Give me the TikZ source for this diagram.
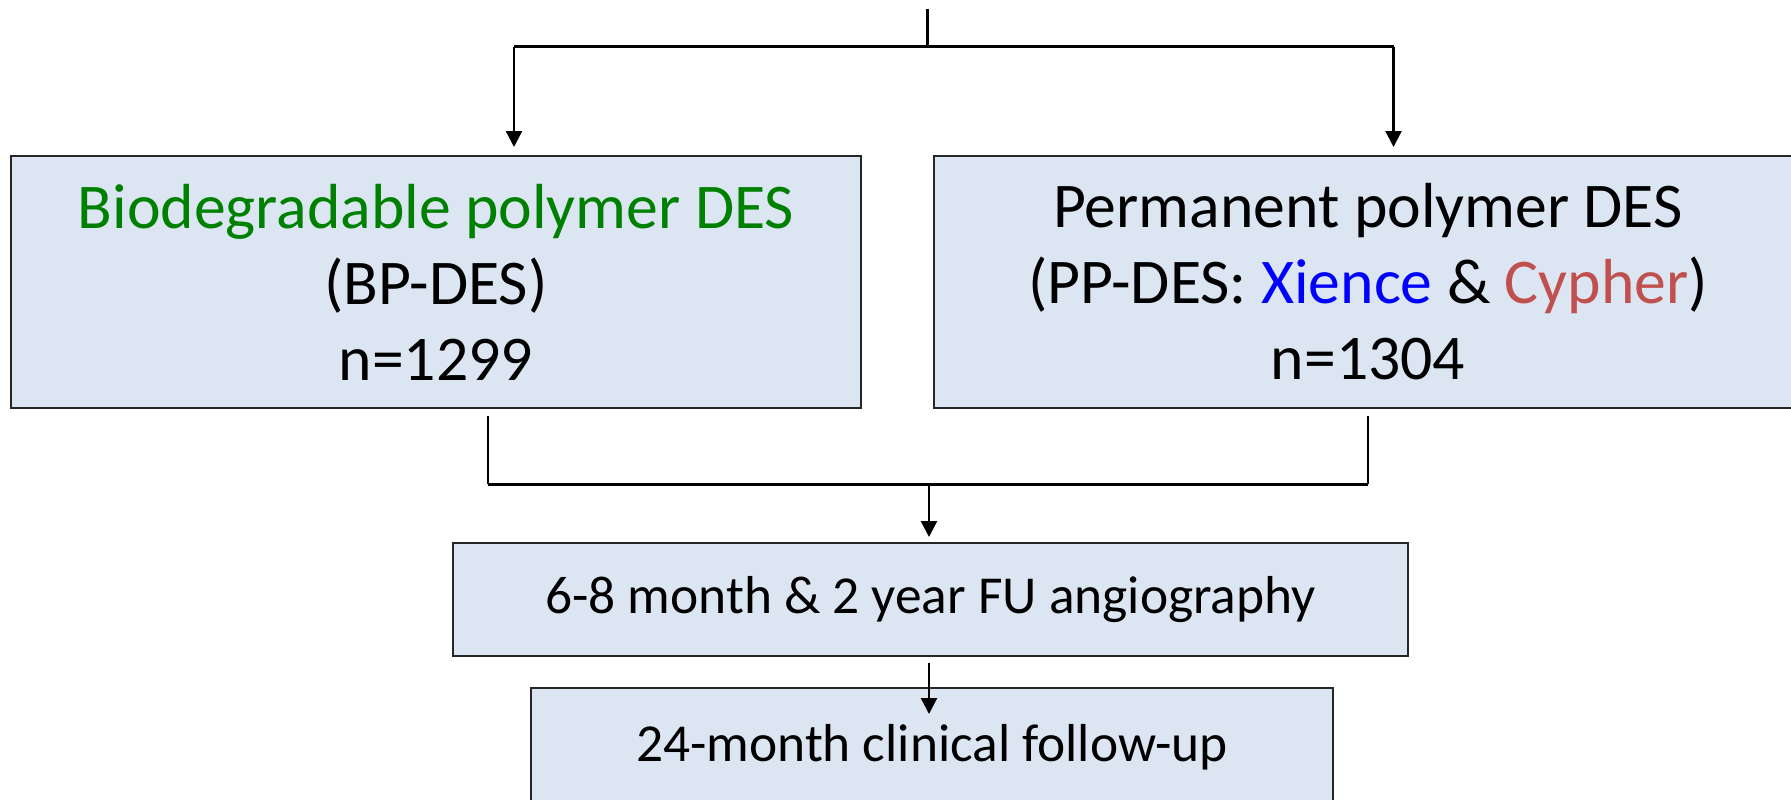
\documentclass[tikz,border=0pt]{standalone}
\usepackage{fontspec}
\setmainfont{Carlito}
\usetikzlibrary{arrows.meta}
\definecolor{boxfill}{HTML}{DCE6F2}
\definecolor{bpgreen}{RGB}{0,128,0}
\definecolor{xblue}{RGB}{0,0,255}
\definecolor{cred}{HTML}{C0504D}
\begin{document}
\begin{tikzpicture}[x=1pt,y=-1pt,
  box/.style={draw=black!85, line width=2pt, fill=boxfill, inner sep=0pt, align=center},
  bigtext/.style={font=\fontsize{63.7}{76}\selectfont},
  smalltext/.style={font=\fontsize{53.4}{60}\selectfont},
  conn/.style={line width=2.3pt, black},
  bus/.style={line width=3pt, black},
  arr/.style={conn, -{Triangle[length=16pt,width=16pt]}}]
\useasboundingbox (0,0) rectangle (1791,800);
\clip (0,0) rectangle (1791,800);
% boxes
\node[box, bigtext, minimum width=850pt, minimum height=252pt] (bp) at (436,282)
  {\textcolor{bpgreen}{Biodegradable polymer DES}\\(BP-DES)\\n=1299};
\node[box, bigtext, minimum width=868pt, minimum height=252pt] (pp) at (1368,282)
  {Permanent polymer DES\\(PP-DES: \textcolor{xblue}{Xience} \& \textcolor{cred}{Cypher})\\n=1304};
\node[box, smalltext, minimum width=955pt, minimum height=113pt] (ang) at (930.5,599.5)
  {\raisebox{-2.5pt}{6-8 month \& 2 year FU angiography}};
\node[box, smalltext, minimum width=802pt, minimum height=118pt] (fu) at (932,747)
  {24-month clinical follow-up};
% top split
\coordinate (src) at (927.5,9);
\coordinate (split) at (927.5,47);
\draw[conn] (src) -- (split);
\draw[bus] ([xshift=78pt]bp.north |- split) -- ([xshift=25.5pt]pp.north |- split);
\draw[arr] ([xshift=78pt]bp.north |- split) -- ([xshift=78pt,yshift=8pt]bp.north);
\draw[arr] ([xshift=25.5pt]pp.north |- split) -- ([xshift=25.5pt,yshift=8pt]pp.north);
% merge
\coordinate (merge) at (929,484);
\draw[conn] ([xshift=52pt,yshift=-7pt]bp.south) -- ([xshift=52pt]bp.south |- merge);
\draw[conn] ([yshift=-7pt]pp.south) -- (pp.south |- merge);
\draw[bus] ([xshift=52pt]bp.south |- merge) -- (pp.south |- merge);
\draw[arr] (merge) -- ([xshift=-1.5pt,yshift=5pt]ang.north);
\draw[arr] ([xshift=-1.5pt,yshift=-6pt]ang.south) -- ([xshift=-3pt,yshift=-27pt]fu.north);
\end{tikzpicture}
\end{document}
